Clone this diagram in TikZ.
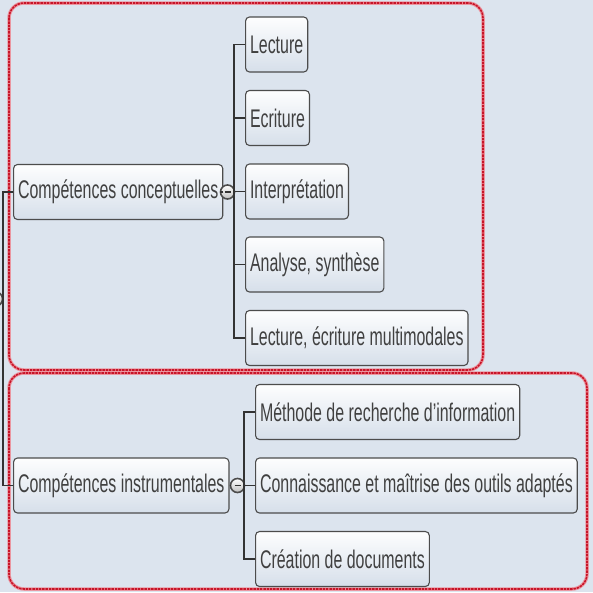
\documentclass[tikz,border=0pt]{standalone}
\usepackage{fontspec}
\setmainfont{Liberation Sans}[FakeStretch=0.625]
\usepackage{tikz}
\usetikzlibrary{positioning}
\definecolor{bgblue}{RGB}{220,228,238}
\definecolor{boxblue}{RGB}{214,223,234}
\definecolor{grpred}{RGB}{200,20,40}
\definecolor{grphalo}{RGB}{235,150,160}
\tikzstyle{topic} = [draw=black!70,line width=1.1pt,rounded corners=4pt,top color=white!95!bgblue,bottom color=boxblue,minimum height=55pt,inner xsep=4.5pt,anchor=west,text=black!75,font=\fontsize{25.5}{30}\selectfont]
\tikzstyle{fold} = [circle,draw=black!70,line width=1.6pt,top color=white,bottom color=black!25,minimum size=14pt,inner sep=0pt]
\tikzstyle{link} = [black!80,line width=1.1pt]
\tikzstyle{halo} = [grphalo,line width=3.5pt,rounded corners=15pt]
\tikzstyle{grp} = [grpred,line width=1.6pt,dash pattern=on 2.5pt off 0.8pt,rounded corners=15pt]

\begin{document}
\begin{tikzpicture}[x=1pt,y=-1pt]
	\fill[bgblue] (0,0) rectangle (593,592);
	\useasboundingbox (0,0) rectangle (593,592);
	% groups
	\draw[halo] (9,3) rectangle (483,370);
	\draw[halo] (9,373) rectangle (587,589);
	\draw[grp] (9,3) rectangle (483,370);
	\draw[grp] (9,373) rectangle (587,589);
	% first branch
	\node[topic] (cc) at (13,192) {Compétences conceptuelles};
	\node[topic] (lec) at (245,44.5) {Lecture};
	\node[topic] (ecr) at (245,118) {Ecriture};
	\node[topic] (int) at (245,191.5) {Interprétation};
	\node[topic] (ana) at (245,264.5) {Analyse, synthèse};
	\node[topic] (mul) at (245,338) {Lecture, écriture multimodales};
	\node[fold] (ccdot) at (227.5,192) {};
	\coordinate (cct) at (234,192);
	\draw[link] (cc.east) -- (ccdot.west);
	\draw[link] (ccdot.east) -- (cct);
	\foreach \n in {lec,ecr,int,ana,mul}
		\draw[link] (\n.west) -| (cct);
	% second branch
	\node[topic] (ci) at (13,485.5) {Compétences instrumentales};
	\node[topic] (rec) at (255,412) {Méthode de recherche d'information};
	\node[topic] (out) at (255,485.5) {Connaissance et maîtrise des outils adaptés};
	\node[topic] (doc) at (255,559) {Création de documents};
	\node[fold] (cidot) at (237.5,485.5) {};
	\coordinate (cit) at (244,485.5);
	\draw[link] (ci.east) -- (cidot.west);
	\draw[link] (cidot.east) -- (cit);
	\foreach \n in {rec,out,doc}
		\draw[link] (\n.west) -| (cit);
	% minus signs
	\foreach \d in {ccdot,cidot}
		\draw[black!80,line width=1.2pt] ([xshift=-3pt]\d.center) -- ([xshift=3pt]\d.center);
	% root
	\node[fold,minimum size=15pt] (rootdot) at (-5,299) {};
	\coordinate (rt) at (3,299);
	\draw[link] (cc.west) -| (rt);
	\draw[link] (ci.west) -| (rt);
\end{tikzpicture}
\end{document}
